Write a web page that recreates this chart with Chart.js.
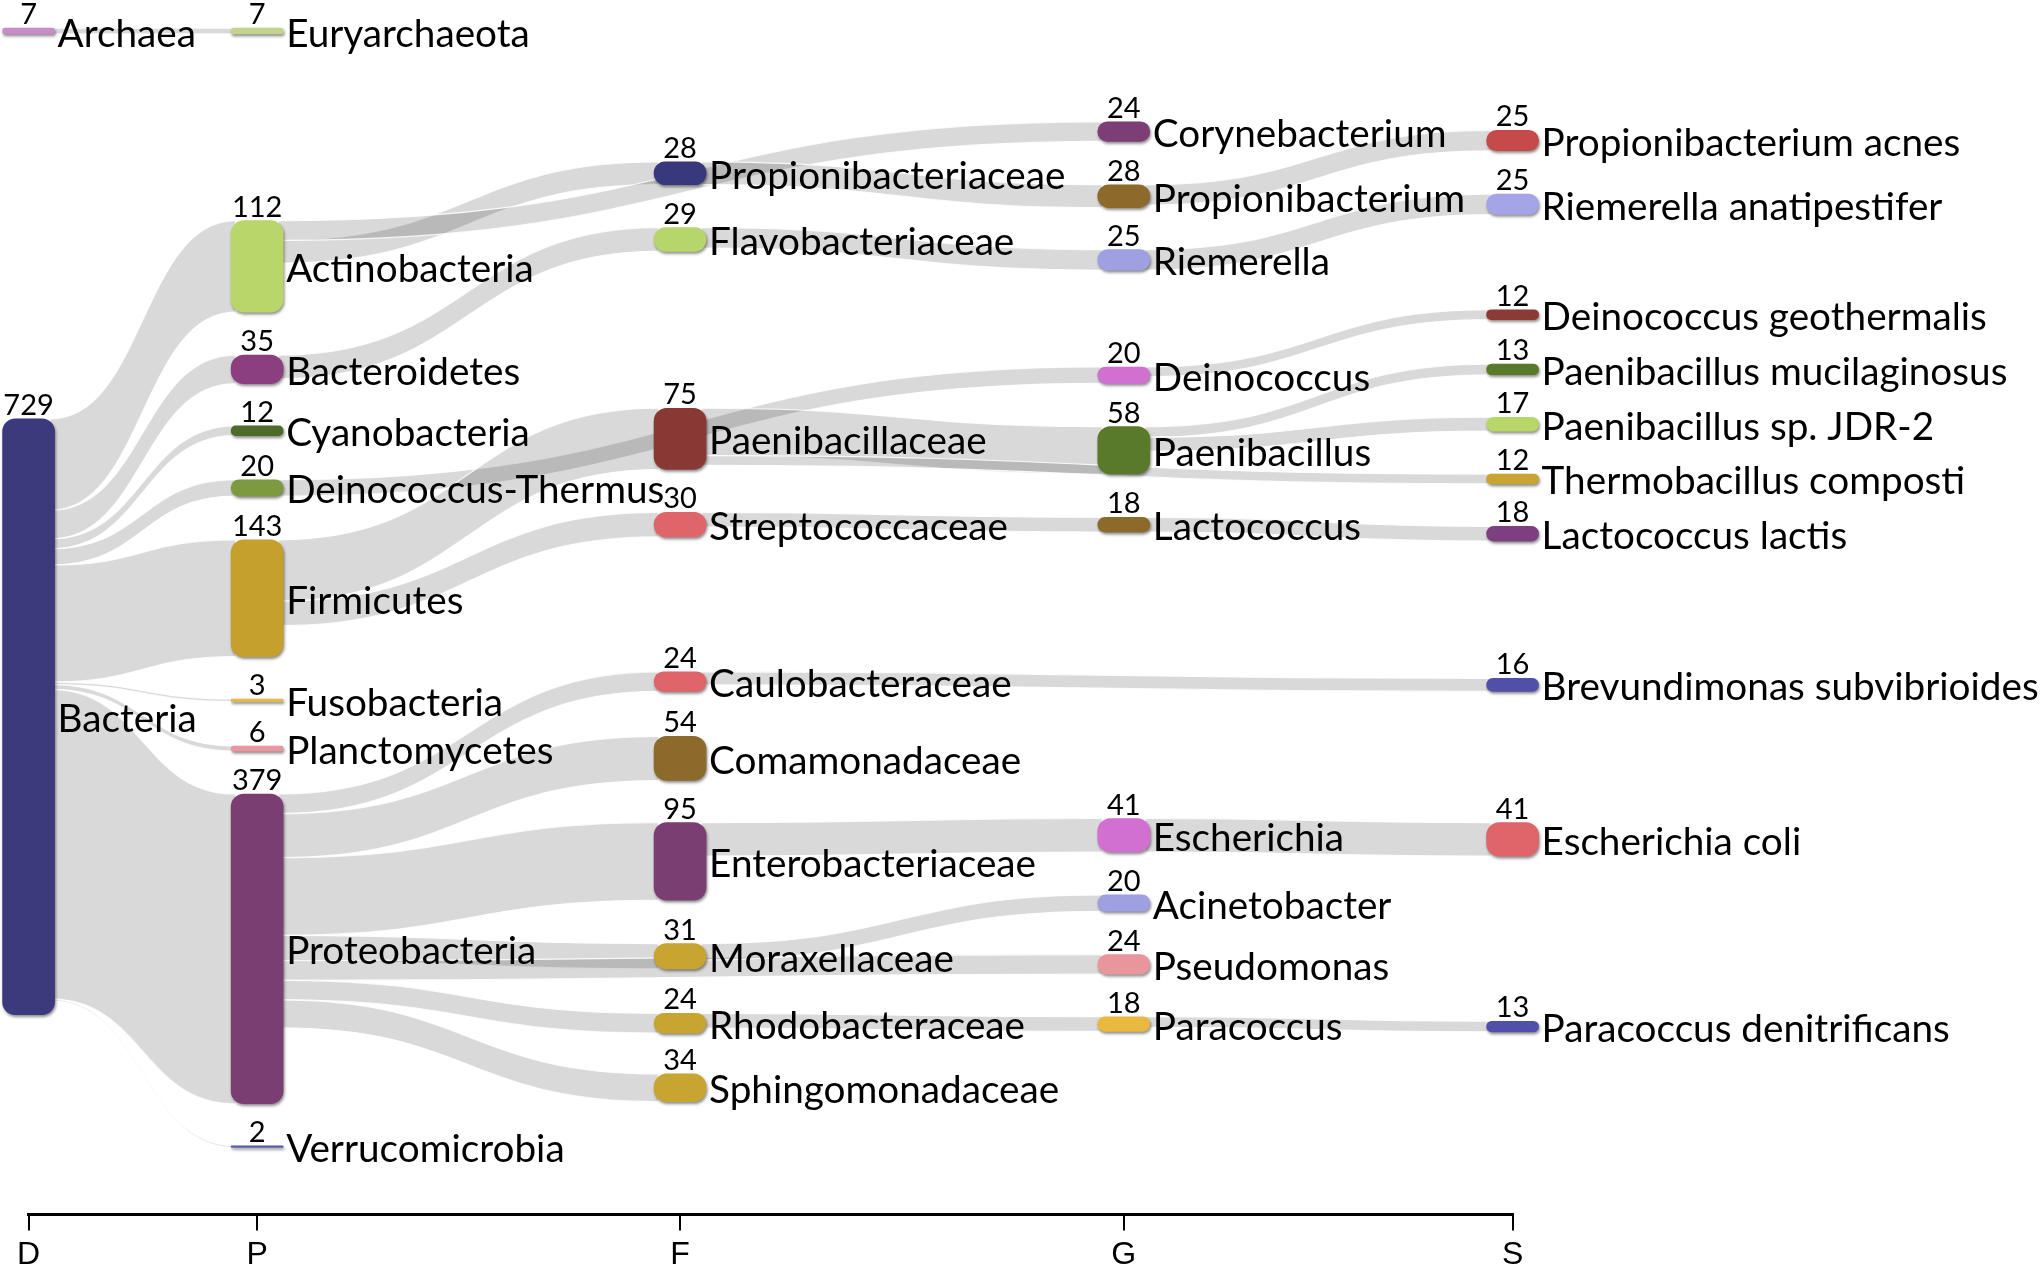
<!DOCTYPE html>
<html>
<head>
<meta charset="utf-8">
<script src="https://cdn.jsdelivr.net/npm/chart.js@4.4.1/dist/chart.umd.min.js"></script>
<style>
  html, body { margin: 0; padding: 0; background: #fff; }
  #wrap { width: 2041px; height: 1272px; }
</style>
</head>
<body>
<div id="wrap"><canvas id="sankey"></canvas></div>
<script>
// taxonomic levels along the bottom axis
const levels = ["D", "P", "F", "G", "S"];
const levelX = [0, 15.4, 43.9, 73.8, 100];

// nodes: name, level index, read count, vertical centre (count units from top)
const nodeNames = [
  "Archaea", "Bacteria",
  "Euryarchaeota", "Actinobacteria", "Bacteroidetes", "Cyanobacteria", "Deinococcus-Thermus",
  "Firmicutes", "Fusobacteria", "Planctomycetes", "Proteobacteria", "Verrucomicrobia",
  "Propionibacteriaceae", "Flavobacteriaceae", "Paenibacillaceae", "Streptococcaceae", "Caulobacteraceae",
  "Comamonadaceae", "Enterobacteriaceae", "Moraxellaceae", "Rhodobacteraceae", "Sphingomonadaceae",
  "Corynebacterium", "Propionibacterium", "Riemerella", "Deinococcus", "Paenibacillus",
  "Lactococcus", "Escherichia", "Acinetobacter", "Pseudomonas", "Paracoccus",
  "Propionibacterium acnes", "Riemerella anatipestifer", "Deinococcus geothermalis",
  "Paenibacillus mucilaginosus", "Paenibacillus sp. JDR-2", "Thermobacillus composti",
  "Lactococcus lactis", "Brevundimonas subvibrioides", "Escherichia coli", "Paracoccus denitrificans"
];
const nodeLevel = [
  0, 0,
  1, 1, 1, 1, 1, 1, 1, 1, 1, 1,
  2, 2, 2, 2, 2, 2, 2, 2, 2, 2,
  3, 3, 3, 3, 3, 3, 3, 3, 3, 3,
  4, 4, 4, 4, 4, 4, 4, 4, 4, 4
];
const nodeCounts = [
  7, 729,
  7, 112, 35, 12, 20, 143, 3, 6, 379, 2,
  28, 29, 75, 30, 24, 54, 95, 31, 24, 34,
  24, 28, 25, 20, 58, 18, 41, 20, 24, 18,
  25, 25, 12, 13, 17, 12, 18, 16, 41, 13
];
const nodeY = [
  38, 877,
  38, 326, 452, 527, 597, 732, 857, 916, 1161, 1403,
  212, 293, 537, 642, 834, 928, 1054, 1170, 1252, 1331,
  161, 240, 318, 459, 551, 642, 1022, 1105, 1180, 1253,
  172, 250, 385, 452, 519, 586, 653, 838, 1027, 1256
];

// links between nodes
const linkFrom = [
  "Archaea",
  "Bacteria", "Bacteria", "Bacteria", "Bacteria", "Bacteria", "Bacteria", "Bacteria", "Bacteria", "Bacteria",
  "Actinobacteria", "Actinobacteria", "Bacteroidetes", "Deinococcus-Thermus", "Firmicutes", "Firmicutes",
  "Proteobacteria", "Proteobacteria", "Proteobacteria", "Proteobacteria", "Proteobacteria", "Proteobacteria", "Proteobacteria",
  "Propionibacteriaceae", "Flavobacteriaceae", "Paenibacillaceae", "Paenibacillaceae", "Streptococcaceae",
  "Caulobacteraceae", "Enterobacteriaceae", "Moraxellaceae", "Rhodobacteraceae",
  "Propionibacterium", "Riemerella", "Deinococcus", "Paenibacillus", "Paenibacillus",
  "Lactococcus", "Escherichia", "Paracoccus"
];
const linkTo = [
  "Euryarchaeota",
  "Actinobacteria", "Bacteroidetes", "Cyanobacteria", "Deinococcus-Thermus", "Firmicutes",
  "Fusobacteria", "Planctomycetes", "Proteobacteria", "Verrucomicrobia",
  "Propionibacteriaceae", "Corynebacterium", "Flavobacteriaceae", "Deinococcus", "Paenibacillaceae", "Streptococcaceae",
  "Caulobacteraceae", "Comamonadaceae", "Enterobacteriaceae", "Moraxellaceae", "Pseudomonas", "Rhodobacteraceae", "Sphingomonadaceae",
  "Propionibacterium", "Riemerella", "Paenibacillus", "Thermobacillus composti", "Lactococcus",
  "Brevundimonas subvibrioides", "Escherichia", "Acinetobacter", "Paracoccus",
  "Propionibacterium acnes", "Riemerella anatipestifer", "Deinococcus geothermalis",
  "Paenibacillus mucilaginosus", "Paenibacillus sp. JDR-2",
  "Lactococcus lactis", "Escherichia coli", "Paracoccus denitrificans"
];
const linkValues = [
  7,
  112, 35, 12, 20, 143, 3, 6, 379, 2,
  28, 24, 29, 20, 75, 30,
  24, 54, 95, 31, 24, 24, 34,
  28, 25, 58, 12, 18,
  16, 41, 20, 18,
  25, 25, 12, 13, 17,
  18, 41, 13
];

// node colours (styling only)
const nodeColors = [
  "#c98ccb", "#3a3a7c",
  "#c3d58c", "#b9d66b", "#8b3f80", "#4d6b2a", "#7e9a40", "#c6a02c", "#e2b94a", "#e7979d", "#7a3e72", "#5a5ab2",
  "#38387d", "#b6d66c", "#893934", "#e0656a", "#e0656a", "#8b6a2c", "#7a3e72", "#c8a530", "#c8a530", "#c8a530",
  "#7c3e75", "#8b6a2c", "#9ea0e1", "#d270d2", "#5a7a2b", "#8b6a2c", "#d270d2", "#9ea0e1", "#e8969b", "#e8b83f",
  "#c64a4a", "#a3a5e6", "#8b3a35", "#5a7a2b", "#b9d66b", "#c8a530", "#7d3f80", "#5050a8", "#e0656a", "#5050a8"
];

const BAR_W = 52;

// grey bands between nodes, drawn behind the nodes
const linkPlugin = {
  id: "links",
  beforeDatasetsDraw(chart) {
    const { ctx } = chart;
    const xs = chart.scales.x;
    const ys = chart.scales.y;
    const idx = {};
    nodeNames.forEach((n, i) => { idx[n] = i; });

    const outOff = {};
    const inOff = {};
    const order = linkFrom.map((_, i) => i);

    // stack outgoing links by target height, incoming by source height
    const srcStart = {};
    order.slice().sort((a, b) => nodeY[idx[linkTo[a]]] - nodeY[idx[linkTo[b]]]).forEach(i => {
      const s = idx[linkFrom[i]];
      outOff[s] = outOff[s] || 0;
      srcStart[i] = nodeY[s] - nodeCounts[s] / 2 + outOff[s];
      outOff[s] += linkValues[i];
    });
    const tgtStart = {};
    order.slice().sort((a, b) => nodeY[idx[linkFrom[a]]] - nodeY[idx[linkFrom[b]]]).forEach(i => {
      const t = idx[linkTo[i]];
      inOff[t] = inOff[t] || 0;
      tgtStart[i] = nodeY[t] - nodeCounts[t] / 2 + inOff[t];
      inOff[t] += linkValues[i];
    });

    ctx.save();
    order.forEach(i => {
      const s = idx[linkFrom[i]];
      const t = idx[linkTo[i]];
      const x0 = xs.getPixelForValue(levelX[nodeLevel[s]]) + BAR_W / 2 - 4;
      const x1 = xs.getPixelForValue(levelX[nodeLevel[t]]) - BAR_W / 2 + 4;
      const y0a = ys.getPixelForValue(srcStart[i]);
      const y0b = ys.getPixelForValue(srcStart[i] + linkValues[i]);
      const y1a = ys.getPixelForValue(tgtStart[i]);
      const y1b = ys.getPixelForValue(tgtStart[i] + linkValues[i]);
      const xm = (x0 + x1) / 2;

      ctx.beginPath();
      ctx.moveTo(x0, y0a);
      ctx.bezierCurveTo(xm, y0a, xm, y1a, x1, y1a);
      ctx.lineTo(x1, y1b);
      ctx.bezierCurveTo(xm, y1b, xm, y0b, x0, y0b);
      ctx.closePath();
      ctx.fillStyle = "rgba(0,0,0,0.15)";
      ctx.fill();

      ctx.strokeStyle = "rgba(255,255,255,0.85)";
      ctx.lineWidth = 1.2;
      ctx.beginPath();
      ctx.moveTo(x0, y0a);
      ctx.bezierCurveTo(xm, y0a, xm, y1a, x1, y1a);
      ctx.moveTo(x0, y0b);
      ctx.bezierCurveTo(xm, y0b, xm, y1b, x1, y1b);
      ctx.stroke();
    });
    ctx.restore();
  },
  beforeDatasetDraw(chart) {
    const ctx = chart.ctx;
    ctx.save();
    ctx.shadowColor = "rgba(0,0,0,0.45)";
    ctx.shadowOffsetX = 1;
    ctx.shadowOffsetY = 2;
    ctx.shadowBlur = 3;
  },
  afterDatasetDraw(chart) {
    chart.ctx.restore();
  }
};

// counts above nodes and names to their right
const labelPlugin = {
  id: "nodeLabels",
  afterDatasetsDraw(chart) {
    const { ctx } = chart;
    const xs = chart.scales.x;
    const ys = chart.scales.y;
    ctx.save();
    ctx.fillStyle = "#000";
    nodeNames.forEach((name, i) => {
      const x = xs.getPixelForValue(levelX[nodeLevel[i]]);
      const top = ys.getPixelForValue(nodeY[i] - nodeCounts[i] / 2);
      const mid = ys.getPixelForValue(nodeY[i]);
      ctx.font = "29px Lato";
      ctx.textAlign = "center";
      ctx.textBaseline = "alphabetic";
      ctx.fillText(String(nodeCounts[i]), x, top - 4);
      ctx.font = "38.7px Lato";
      ctx.textAlign = "left";
      ctx.textBaseline = "middle";
      ctx.fillText(name, x + BAR_W / 2 + 3, mid + 3);
    });
    ctx.restore();
  }
};

const ctx = document.getElementById("sankey").getContext("2d");

new Chart(ctx, {
  type: "bar",
  data: {
    datasets: [{
      data: nodeNames.map((n, i) => ({
        x: levelX[nodeLevel[i]],
        y: [nodeY[i] - nodeCounts[i] / 2, nodeY[i] + nodeCounts[i] / 2]
      })),
      backgroundColor: nodeColors,
      borderWidth: 0,
      borderSkipped: false,
      borderRadius: 13,
      barThickness: BAR_W,
      clip: false
    }]
  },
  options: {
    responsive: true,
    maintainAspectRatio: false,
    animation: false,
    layout: { padding: { left: 28.6, right: 528.4, top: 0, bottom: 0 } },
    plugins: {
      legend: { display: false },
      tooltip: { enabled: false }
    },
    scales: {
      x: {
        type: "linear",
        min: levelX[0],
        max: levelX[levelX.length - 1],
        offset: false,
        afterBuildTicks: scale => {
          scale.ticks = levelX.map(v => ({ value: v }));
        },
        afterFit: scale => {
          scale.height = 57.5;
        },
        ticks: {
          autoSkip: false,
          maxRotation: 0,
          padding: 12,
          color: "#000",
          font: { family: "Liberation Sans", size: 32, lineHeight: 0.8 },
          callback: (v, i) => levels[i]
        },
        grid: {
          display: true,
          drawOnChartArea: false,
          drawTicks: true,
          tickLength: 16,
          color: "#000",
          lineWidth: 2,
          offset: false
        },
        border: { display: true, color: "#000", width: 3 }
      },
      y: {
        type: "linear",
        display: false,
        reverse: true,
        min: 0,
        max: 1486
      }
    }
  },
  plugins: [linkPlugin, labelPlugin]
});
</script>
</body>
</html>
